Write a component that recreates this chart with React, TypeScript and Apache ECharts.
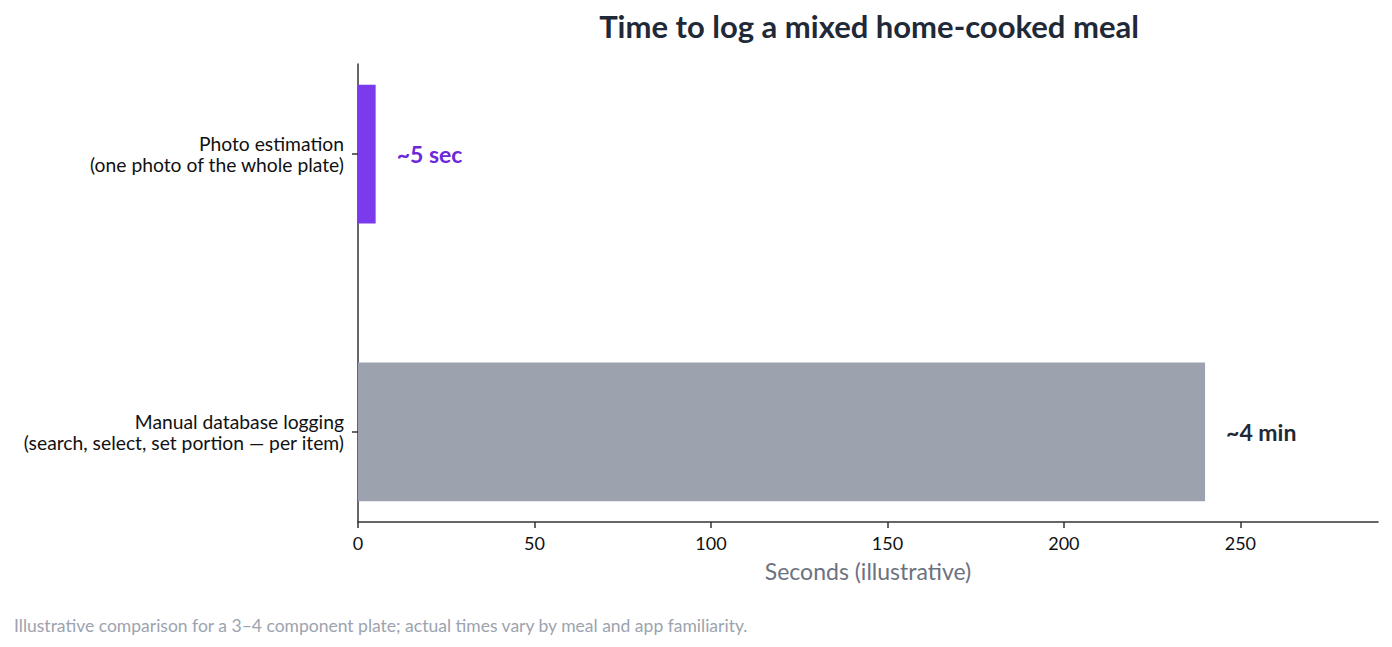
import React, { useEffect, useRef } from 'react';
import * as echarts from 'echarts';

// index 0 sits at the bottom of the value-based y axis
const categories = [
  'Manual database logging\n(search, select, set portion — per item)',
  'Photo estimation\n(one photo of the whole plate)',
];
const seconds = [240, 5];
const valueLabels = ['~4 min', '~5 sec'];
const barColors = ['#9ca3af', '#7c3aed'];
const labelColors = ['#1f2937', '#6d28d9'];
const xTicks = [0, 50, 100, 150, 200, 250];

const FONT = 'Lato, "DejaVu Sans", sans-serif';
const BAR_HALF = 0.25;

const App: React.FC = () => {
  const chartRef = useRef<HTMLDivElement>(null);

  useEffect(() => {
    if (!chartRef.current) return;
    const chart = echarts.init(chartRef.current, null, { renderer: 'svg' });

    chart.setOption({
      animation: false,
      textStyle: { fontFamily: FONT },
      title: {
        text: 'Time to log a mixed home-cooked meal',
        left: 864,
        textAlign: 'center',
        top: 5,
        textStyle: { fontSize: 31, fontWeight: 'bold', color: '#1f2937', fontFamily: FONT },
      },
      grid: { left: 358, right: 14, top: 64, bottom: 125, containLabel: false },
      xAxis: {
        type: 'value',
        min: 0,
        max: 289,
        name: 'Seconds (illustrative)',
        nameLocation: 'middle',
        nameGap: 37,
        nameTextStyle: { fontSize: 23, color: '#6b7280', fontFamily: FONT },
        axisLine: { show: true, onZero: false, lineStyle: { color: '#333333', width: 1.5 } },
        axisTick: { show: true, length: 6, customValues: xTicks, lineStyle: { color: '#333333', width: 1.5 } },
        axisLabel: { fontSize: 18, color: '#111111', margin: 12, fontFamily: FONT, customValues: xTicks },
        splitLine: { show: false },
      },
      yAxis: {
        type: 'value',
        min: -0.325,
        max: 1.325,
        axisLine: { show: true, onZero: false, lineStyle: { color: '#333333', width: 1.5 } },
        axisTick: { show: true, length: 6, customValues: [0, 1], lineStyle: { color: '#333333', width: 1.5 } },
        axisLabel: {
          customValues: [0, 1],
          formatter: (v: number) => categories[Math.round(v)] ?? '',
          fontSize: 19.3,
          color: '#111111',
          margin: 14,
          lineHeight: 21,
          fontFamily: FONT,
        },
        splitLine: { show: false },
      },
      series: [
        {
          type: 'custom',
          data: seconds.map((v, i) => [v, i]),
          encode: { x: 0, y: 1 },
          renderItem: (params: any, api: any) => {
            const v = api.value(0);
            const idx = api.value(1);
            const i = params.dataIndex;
            const p0 = api.coord([0, idx + BAR_HALF]);
            const p1 = api.coord([v, idx - BAR_HALF]);
            const mid = api.coord([v, idx]);
            return {
              type: 'group',
              children: [
                {
                  type: 'rect',
                  shape: { x: p0[0], y: p0[1], width: p1[0] - p0[0], height: p1[1] - p0[1] },
                  style: { fill: barColors[i] },
                },
                {
                  type: 'text',
                  x: mid[0] + 21,
                  y: mid[1],
                  style: {
                    text: valueLabels[i],
                    fontSize: 23,
                    fontWeight: 'bold',
                    fill: labelColors[i],
                    fontFamily: FONT,
                    verticalAlign: 'middle',
                    align: 'left',
                  },
                },
              ],
            };
          },
        },
      ],
      graphic: [
        {
          type: 'text',
          left: 14,
          top: 616,
          style: {
            text: 'Illustrative comparison for a 3–4 component plate; actual times vary by meal and app familiarity.',
            fontSize: 17.5,
            fill: '#9ca3af',
            fontFamily: FONT,
          },
        },
      ],
    });

    return () => {
      chart.dispose();
    };
  }, []);

  return <div ref={chartRef} style={{ width: 1392, height: 647, margin: -8 }} />;
};

export default App;
